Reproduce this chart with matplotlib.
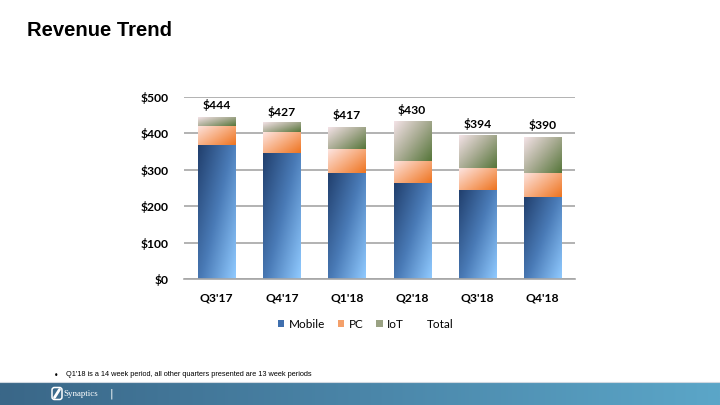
import numpy as np
import matplotlib
matplotlib.use("Agg")
import matplotlib.pyplot as plt
from matplotlib.colors import LinearSegmentedColormap
from matplotlib.patches import Patch, FancyBboxPatch
from matplotlib.lines import Line2D

quarters = ["Q3'17", "Q4'17", "Q1'18", "Q2'18", "Q3'18", "Q4'18"]
mobile = [367, 346, 292, 262, 245, 225]
pc = [53, 56, 65, 61, 59, 67]
iot = [24, 25, 60, 107, 90, 98]
totals = [444, 427, 417, 430, 394, 390]
yticks = [0, 100, 200, 300, 400, 500]

FONT = ["Lato", "DejaVu Sans"]

fig = plt.figure(figsize=(7.2, 4.05), dpi=100)
fig.patch.set_facecolor("white")

# Title
fig.text(27/720, 1-31/405, "Revenue Trend", fontsize=14.6, fontweight="bold",
         family=["Liberation Sans", "DejaVu Sans"],
         va="center", ha="left", color="black")

ax = fig.add_axes([184/720, 1-279/405, 391/720, (279-96.7)/405])
ax.set_xlim(-0.5, 5.5)
ax.set_ylim(0, 500)
for s in ["left", "right", "top"]:
    ax.spines[s].set_visible(False)
ax.spines["bottom"].set_color("#a6a6a6")
ax.spines["bottom"].set_linewidth(1.2)
ax.set_yticks(yticks)
ax.set_yticklabels([f"${v}" for v in yticks])
ax.set_xticks(range(len(quarters)))
ax.set_xticklabels(quarters)
ax.tick_params(length=0, labelsize=8.7)
for lab in ax.get_xticklabels() + ax.get_yticklabels():
    lab.set_fontweight("bold")
    lab.set_family(FONT)
ax.tick_params(axis="x", pad=10)
ax.tick_params(axis="y", pad=11)
ax.yaxis.grid(True, color="#a6a6a6", linewidth=1.2)
ax.set_axisbelow(True)

cm_mobile = LinearSegmentedColormap.from_list("m", ["#213f6d", "#4a7bb7", "#90caff"])
cm_pc = LinearSegmentedColormap.from_list("p", ["#fde4e0", "#f7ad80", "#ee7420"])
cm_iot = LinearSegmentedColormap.from_list("i", ["#f3e2e6", "#a8ab92", "#56763a"])

n = 64
u = np.linspace(0, 1, n)[None, :]
v = np.linspace(1, 0, n)[:, None]  # row 0 = top
grad = 0.55 * u + 0.45 * (1 - v)

w = 0.57
bottoms = np.zeros(len(quarters))
for vals, cm in [(mobile, cm_mobile), (pc, cm_pc), (iot, cm_iot)]:
    bars = ax.bar(range(len(quarters)), vals, w, bottom=bottoms, color="none", edgecolor="none")
    for i, b in enumerate(bars):
        x0, y0 = b.get_x(), b.get_y()
        ax.imshow(grad, cmap=cm, extent=[x0, x0 + w, y0, y0 + b.get_height()],
                  aspect="auto", origin="upper", zorder=2, interpolation="bilinear")
    bottoms = bottoms + np.array(vals)
ax.set_xlim(-0.5, 5.5)
ax.set_ylim(0, 500)

for i, t in enumerate(totals):
    ax.annotate(f"${t}", (i, t), xytext=(0, 8.5), textcoords="offset points",
                ha="center", va="center", fontsize=8.7, fontweight="bold",
                family=FONT)

handles = [Patch(facecolor="#3f6fae", edgecolor="none"),
           Patch(facecolor="#f4a06a", edgecolor="none"),
           Patch(facecolor="#9aa283", edgecolor="none"),
           Line2D([], [], color="none")]
leg = fig.legend(handles, ["Mobile", "PC", "IoT", "Total"], loc="center",
                 bbox_to_anchor=(366/720, 1-324/405), ncol=4, frameon=False,
                 handlelength=0.55, handleheight=0.55,
                 handletextpad=0.35, columnspacing=1.1,
                 prop={"family": FONT, "size": 8.5})

# Footnote
fig.text(54/720, 1-375/405, "•", fontsize=5.5, va="center", ha="left")
fig.text(66/720, 1-375/405, "Q1'18 is a 14 week period, all other quarters presented are 13 week periods",
         fontsize=5.3, va="center", ha="left",
         family=["Liberation Sans", "DejaVu Sans"])

# Footer band
fax = fig.add_axes([0, 0, 1, 22.5/405])
fax.set_axis_off()
band = np.linspace(0, 1, 256)[None, :]
cm_band = LinearSegmentedColormap.from_list("b", ["#3a6788", "#4a85a8", "#5ba6c8"])
fax.imshow(band, cmap=cm_band, extent=[0, 720, 0, 22.5], aspect="auto")
fax.set_xlim(0, 720)
fax.set_ylim(0, 22.5)
fax.add_patch(FancyBboxPatch((52, 5.5), 10, 12, boxstyle="round,pad=0,rounding_size=2.5",
                             facecolor="none", edgecolor="white", linewidth=1.1))
fax.plot([54.5, 59.5], [7.5, 15.5], color="white", linewidth=2.0, solid_capstyle="round")
fax.text(63, 11.5, "Synaptics", color="white", fontsize=6.4, va="center", ha="left",
         family=["Liberation Serif", "DejaVu Serif"])
fax.text(110, 11.5, "|", color="white", fontsize=8, va="center", ha="left")
fig.add_artist(Line2D([0, 1], [1-382/405, 1-382/405], color="#d0d8e0", linewidth=0.8))

fig.savefig("out.png", dpi=100)
